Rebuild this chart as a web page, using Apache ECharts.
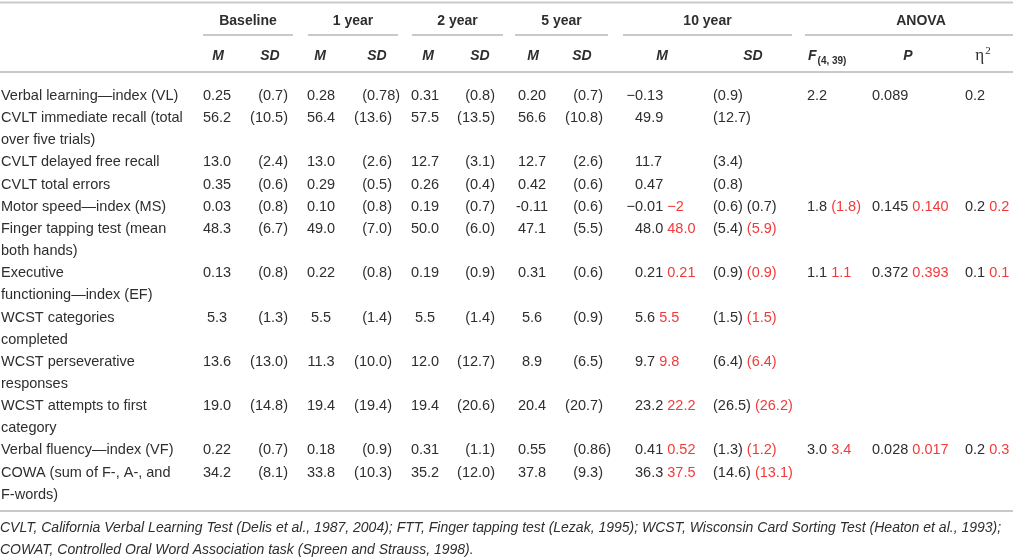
<!DOCTYPE html>
<html>
<head>
<meta charset="utf-8">
<script src="https://cdn.jsdelivr.net/npm/echarts@6/dist/echarts.min.js"></script>
<style>
html, body { margin: 0; padding: 0; background: #fff; }
#table { width: 1013px; height: 560px; }
</style>
</head>
<body>
<div id="table"></div>
<script>
// row labels (\n = line break as printed)
var rowLabels = [
	'Verbal learning\u2014index (VL)',
	'CVLT immediate recall (total\nover five trials)',
	'CVLT delayed free recall',
	'CVLT total errors',
	'Motor speed\u2014index (MS)',
	'Finger tapping test (mean\nboth hands)',
	'Executive\nfunctioning\u2014index (EF)',
	'WCST categories\ncompleted',
	'WCST perseverative\nresponses',
	'WCST attempts to first\ncategory',
	'Verbal fluency\u2014index (VF)',
	'COWA (sum of F-, A-, and\nF-words)'
];
var groupLabels = ['Baseline', '1 year', '2 year', '5 year', '10 year', 'ANOVA'];

var baselineM  = ['0.25', '56.2', '13.0', '0.35', '0.03', '48.3', '0.13', '5.3', '13.6', '19.0', '0.22', '34.2'];
var baselineSD = ['0.7', '10.5', '2.4', '0.6', '0.8', '6.7', '0.8', '1.3', '13.0', '14.8', '0.7', '8.1'];
var year1M  = ['0.28', '56.4', '13.0', '0.29', '0.10', '49.0', '0.22', '5.5', '11.3', '19.4', '0.18', '33.8'];
var year1SD = ['0.78', '13.6', '2.6', '0.5', '0.8', '7.0', '0.8', '1.4', '10.0', '19.4', '0.9', '10.3'];
var year2M  = ['0.31', '57.5', '12.7', '0.26', '0.19', '50.0', '0.19', '5.5', '12.0', '19.4', '0.31', '35.2'];
var year2SD = ['0.8', '13.5', '3.1', '0.4', '0.7', '6.0', '0.9', '1.4', '12.7', '20.6', '1.1', '12.0'];
var year5M  = ['0.20', '56.6', '12.7', '0.42', '-0.11', '47.1', '0.31', '5.6', '8.9', '20.4', '0.55', '37.8'];
var year5SD = ['0.7', '10.8', '2.6', '0.6', '0.6', '5.5', '0.6', '0.9', '6.5', '20.7', '0.86', '9.3'];
var year10M        = ['\u22120.13', '49.9', '11.7', '0.47', '\u22120.01', '48.0', '0.21', '5.6', '9.7', '23.2', '0.41', '36.3'];
var year10MRevised = [null, null, null, null, '\u22122', '48.0', '0.21', '5.5', '9.8', '22.2', '0.52', '37.5'];
var year10SD        = ['0.9', '12.7', '3.4', '0.8', '0.6', '5.4', '0.9', '1.5', '6.4', '26.5', '1.3', '14.6'];
var year10SDRevised = [null, null, null, null, '0.7', '5.9', '0.9', '1.5', '6.4', '26.2', '1.2', '13.1'];
var anovaF        = ['2.2', null, null, null, '1.8', null, '1.1', null, null, null, '3.0', null];
var anovaFRevised = [null, null, null, null, '(1.8)', null, '1.1', null, null, null, '3.4', null];
var anovaP        = ['0.089', null, null, null, '0.145', null, '0.372', null, null, null, '0.028', null];
var anovaPRevised = [null, null, null, null, '0.140', null, '0.393', null, null, null, '0.017', null];
var anovaEta        = ['0.2', null, null, null, '0.2', null, '0.1', null, null, null, '0.2', null];
var anovaEtaRevised = [null, null, null, null, '0.2', null, '0.1', null, null, null, '0.3', null];
// the revised SD of the motor index is printed in black
var blackRevisionRows = [4];

var footnotes = [
	'CVLT, California Verbal Learning Test (Delis et al., 1987, 2004); FTT, Finger tapping test (Lezak, 1995); WCST, Wisconsin Card Sorting Test (Heaton et al., 1993);',
	'COWAT, Controlled Oral Word Association task (Spreen and Strauss, 1998).'
];

/* layout */
var FONT = '"Liberation Sans", Arial, sans-serif';
var INK = '#2e2e2e', RED = '#f23a3a', RULE = '#c9c9c9';
var FS = 14.5, HFS = 14;
var LINE0 = 96, LINE_H = 22.15;
var groupSpan = [[203, 293], [308, 398], [412, 503], [515, 608], [623, 792], [805, 1013]];
var subX = { M: [218, 320, 428, 533, 662], SD: [270, 377, 480, 582, 753] };
var mCenter = [217, 321, 425, 532];
var sdRight = [288, 392, 495, 603];
var x10M = 635, x10SD = 713, xF = 807, xP = 872, xEta = 965;

var measure = document.createElement('canvas').getContext('2d');
measure.font = FS + 'px ' + FONT;
var digitW = measure.measureText('0').width;
var minusW = measure.measureText('\u2212').width;

var cells = [];
function cell(x, y, text, opt) {
	cells.push(Object.assign({ x: x, y: y, text: text, align: 'left', va: 'middle', weight: 'normal', italic: false, size: FS, color: INK }, opt || {}));
}
function pair(a, b, red) {
	if (b == null) return '{k|' + a + '}';
	return '{k|' + a + ' }{' + (red ? 'r' : 'k') + '|' + b + '}';
}

// headers
groupLabels.forEach(function (g, i) {
	cell((groupSpan[i][0] + groupSpan[i][1]) / 2 + (i === 5 ? 12 : 0), 21, g, { align: 'center', weight: 'bold', size: HFS });
});
for (var g = 0; g < 5; g++) {
	cell(subX.M[g], 56, 'M', { align: 'center', weight: 'bold', italic: true, size: HFS });
	cell(subX.SD[g], 56, 'SD', { align: 'center', weight: 'bold', italic: true, size: HFS });
}
cell(808, 56, '{fi|F}{sub|(4, 39)}', { weight: 'bold', size: HFS });
cell(908, 56, 'P', { align: 'center', weight: 'bold', italic: true, size: HFS });
cell(983, 56, '{eta|\u03b7}{sup|2}', { align: 'center', size: HFS });

// body
var slot = 0;
var mCols = [baselineM, year1M, year2M, year5M];
var sdCols = [baselineSD, year1SD, year2SD, year5SD];
rowLabels.forEach(function (label, i) {
	var y = LINE0 + slot * LINE_H;
	cell(1, y - LINE_H / 2, label, { va: 'top', lineHeight: LINE_H });
	for (var c = 0; c < 4; c++) {
		cell(mCenter[c], y, mCols[c][i], { align: 'center' });
		var dec = sdCols[c][i].split('.')[1].length;
		cell(sdRight[c] + (dec - 1) * digitW, y, '(' + sdCols[c][i] + ')', { align: 'right' });
	}
	var m10 = year10M[i];
	cell(x10M - (m10.charAt(0) === '\u2212' ? minusW : 0), y, pair(m10, year10MRevised[i], true));
	var sdRev = year10SDRevised[i];
	cell(x10SD, y, pair('(' + year10SD[i] + ')', sdRev == null ? null : '(' + sdRev + ')', blackRevisionRows.indexOf(i) < 0));
	if (anovaF[i] != null) {
		cell(xF, y, pair(anovaF[i], anovaFRevised[i], true));
		cell(xP, y, pair(anovaP[i], anovaPRevised[i], true));
		cell(xEta, y, pair(anovaEta[i], anovaEtaRevised[i], true));
	}
	slot += label.split('\n').length;
});

footnotes.forEach(function (t, i) {
	cell(0, 528 + i * 22, t, { italic: true, size: 14 });
});

// horizontal rules [x1, x2, y]
var rules = [[0, 1013, 2.5], [0, 1013, 72], [0, 1013, 511]];
groupSpan.forEach(function (s) { rules.push([s[0], s[1], 35]); });

var chart = echarts.init(document.getElementById('table'), null, { renderer: 'canvas' });
chart.setOption({
	animation: false,
	backgroundColor: '#fff',
	grid: { left: 0, right: 0, top: 0, bottom: 0 },
	xAxis: { type: 'value', min: 0, max: 1013, show: false },
	yAxis: { type: 'value', min: 0, max: 560, inverse: true, show: false },
	series: [{
		type: 'custom',
		silent: true,
		clip: false,
		data: rules,
		encode: { x: 0, y: 2 },
		renderItem: function (params, api) {
			var a = api.coord([api.value(0), api.value(2)]);
			var b = api.coord([api.value(1), api.value(2)]);
			return { type: 'line', shape: { x1: a[0], y1: a[1], x2: b[0], y2: b[1] }, style: { stroke: RULE, lineWidth: 2 } };
		}
	}, {
		type: 'custom',
		silent: true,
		clip: false,
		data: cells.map(function (c) { return [c.x, c.y]; }),
		encode: { x: 0, y: 1 },
		renderItem: function (params, api) {
			var c = cells[params.dataIndex];
			var p = api.coord([api.value(0), api.value(1)]);
			var base = { fontFamily: FONT, fontSize: c.size, fontWeight: c.weight, fontStyle: c.italic ? 'italic' : 'normal' };
			return {
				type: 'text',
				x: p[0], y: p[1],
				style: Object.assign({}, base, {
					text: c.text,
					fill: c.color,
					align: c.align,
					verticalAlign: c.va,
					lineHeight: c.lineHeight,
					rich: {
						k: Object.assign({}, base, { fill: INK }),
						r: Object.assign({}, base, { fill: RED }),
						fi: Object.assign({}, base, { fontStyle: 'italic', fill: INK, lineHeight: 20 }),
						sub: Object.assign({}, base, { fontSize: 10, fill: INK, verticalAlign: 'bottom', lineHeight: 20, padding: [0, 0, 0, 1] }),
						eta: { fontFamily: '"Liberation Serif", serif', fontSize: 17, fill: INK, lineHeight: 20 },
						sup: { fontFamily: '"Liberation Serif", serif', fontSize: 11, fill: INK, verticalAlign: 'top', lineHeight: 20, padding: [0, 0, 0, 1] }
					}
				})
			};
		}
	}]
});
</script>
</body>
</html>
